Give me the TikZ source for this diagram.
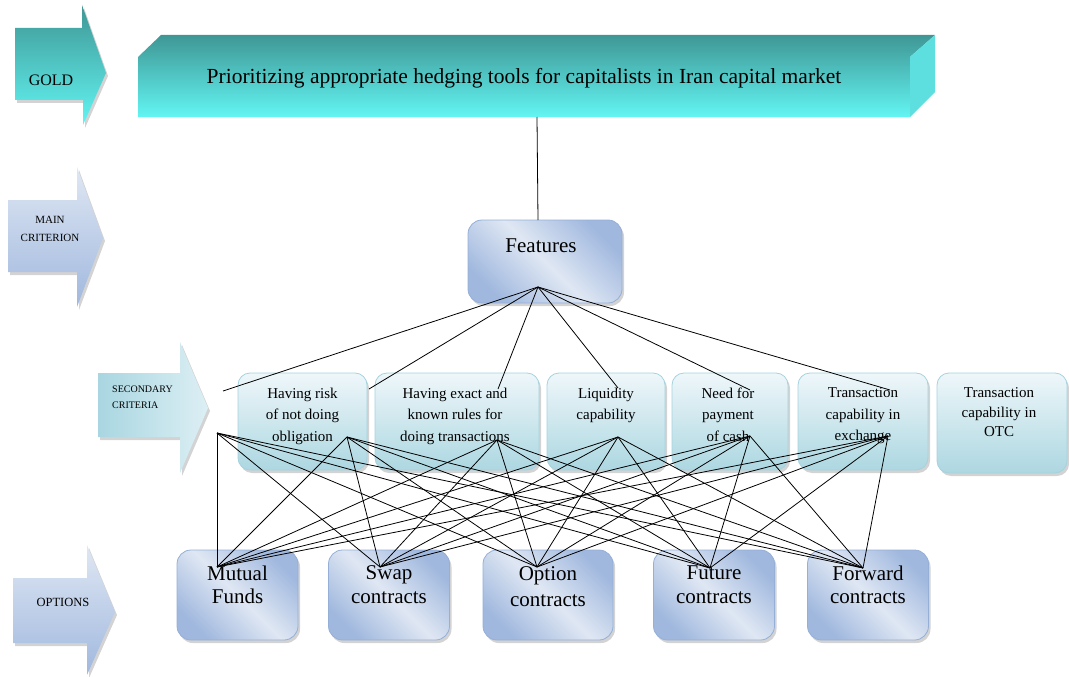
\documentclass[tikz,border=0pt]{standalone}
\usepackage{fontspec}
\setmainfont{Liberation Serif}
\usetikzlibrary{positioning,shadows}

\definecolor{tealdark}{HTML}{3F9795}
\definecolor{tealcyan}{HTML}{62F5F3}
\definecolor{tealside}{HTML}{5CDFDE}
\definecolor{lavdark}{HTML}{A0B8DE}
\definecolor{lavlight}{HTML}{DFE7F3}
\definecolor{lavedge}{HTML}{95AFD7}
\definecolor{critlight}{HTML}{EEF7FA}
\definecolor{critdark}{HTML}{ADD7E1}
\definecolor{critedge}{HTML}{A6D2DD}
\definecolor{arrteal}{HTML}{A9D6E1}
\definecolor{arrteallight}{HTML}{DCEFF4}

\tikzset{every node/.style={align=center, inner sep=0pt},
  softshadow/.style={drop shadow={shadow xshift=2pt, shadow yshift=-3pt, opacity=0.35}},
  critbox/.style={draw=critedge, line width=0.8pt, rounded corners=12pt, top color=critlight,
    bottom color=critdark, minimum height=97pt, softshadow},
  crittxt/.style={font=\fontsize{15}{21.5}\selectfont},
  optbox/.style={draw=lavedge, line width=0.8pt, rounded corners=14pt, top color=lavdark,
    bottom color=lavdark, middle color=lavlight, shading angle=-45, minimum width=121pt,
    minimum height=90pt, softshadow},
  opttxt/.style={font=\fontsize{21}{23.5}\selectfont},
  levelfill/.style={softshadow},
  link/.style={line width=0.8pt, black}}

\begin{document}
\begin{tikzpicture}[x=1pt, y=-1pt]
\useasboundingbox (0,0) rectangle (1069,677);

% level arrows
\path[levelfill, top color=tealdark, bottom color=tealcyan]
  (15,28) -- (82,28) -- (82,5) -- (106,73) -- (83,125) -- (83,100) -- (15,100) -- cycle;
\node[font=\fontsize{16}{18}\selectfont] (gold) at (51,80) {GOLD};
\path[levelfill, top color=lavlight, bottom color=lavdark]
  (8,200) -- (77,200) -- (77,167) -- (103,238) -- (77,307) -- (77,272) -- (8,272) -- cycle;
\node[font=\fontsize{11}{18}\selectfont] (maincrit) at (50,229) {MAIN\\CRITERION};
\path[levelfill, left color=arrteal, right color=arrteallight]
  (98,373) -- (180,373) -- (180,342) -- (208,408) -- (180,473) -- (180,437) -- (98,437) -- cycle;
\node[font=\fontsize{10}{16}\selectfont, align=left, anchor=west] (seccrit) at (112,397) {SECONDARY\\CRITERIA};
\path[levelfill, top color=lavlight, bottom color=lavdark]
  (13,578) -- (87,578) -- (87,545) -- (115,612) -- (87,675) -- (87,643) -- (13,643) -- cycle;
\node[font=\fontsize{12.5}{14}\selectfont] (opts) at (63,602) {OPTIONS};

% goal
\shade[top color=tealdark, bottom color=tealcyan]
  (138,117) -- (138,57) -- (161,35) -- (935,35) -- (910,57) -- (910,117) -- cycle;
\fill[tealside] (910,57) -- (935,35) -- (935,92) -- (910,117) -- cycle;
\node[font=\fontsize{21.5}{24}\selectfont] (goal) at (524,78)
  {Prioritizing appropriate hedging tools for capitalists in Iran capital market};
\coordinate (goalbase) at (537,117);

% main criterion
\node[optbox, minimum width=154pt, minimum height=83pt] (feat) at (545,261.5) {};
\node[opttxt] (feattxt) at (541,246) {Features};
\coordinate (feattop) at (538,220);
\coordinate (ffan) at (538,287);

% secondary criteria
\node[critbox, minimum width=129pt] (c1) at (302.5,421.5) {};
\node[critbox, minimum width=164pt] (c2) at (457,421.5) {};
\node[critbox, minimum width=118pt] (c3) at (606,421.5) {};
\node[critbox, minimum width=116pt] (c4) at (730,421.5) {};
\node[critbox, minimum width=130pt] (c5) at (863,421.5) {};
\node[critbox, minimum width=130pt, minimum height=100pt] (c6) at (1002,423) {};
\node[crittxt, below=15pt of c1.north] (c1t) {Having risk\\of not doing\\obligation};
\node[crittxt, below=15pt of c2.north, xshift=-2pt] (c2t) {Having exact and\\known rules for\\doing transactions};
\node[crittxt, below=15pt of c3.north] (c3t) {Liquidity\\capability};
\node[crittxt, below=15pt of c4.north, xshift=-2pt] (c4t) {Need for\\payment\\of cash};
\node[crittxt, below=15pt of c5.north] (c5t) {Transaction\\capability in\\exchange};
\node[crittxt, below=15pt of c6.north, xshift=-3pt, font=\fontsize{15}{19.5}\selectfont] (c6t) {Transaction\\capability in\\OTC};

% options
\node[optbox] (o1) at (237.5,595) {};
\node[optbox] (o2) at (389,595) {};
\node[optbox, minimum width=130pt] (o3) at (548,595) {};
\node[optbox] (o4) at (714,595) {};
\node[optbox] (o5) at (868,595) {};
\node[opttxt, below=16pt of o1.north] (o1t) {Mutual\\Funds};
\node[opttxt, below=16pt of o2.north] (o2t) {Swap\\contracts};
\node[opttxt, below=16pt of o3.north, yshift=-1pt, font=\fontsize{21}{26}\selectfont] (o3t) {Option\\contracts};
\node[opttxt, below=16pt of o4.north] (o4t) {Future\\contracts};
\node[opttxt, below=16pt of o5.north] (o5t) {Forward\\contracts};

% link points
\coordinate (t0) at (223,391);
\coordinate (t1) at (369,389);
\coordinate (t2) at (498,389);
\coordinate (t3) at (618,388);
\coordinate (t4) at (750,390);
\coordinate (t5) at (890,390);
\coordinate (b0) at (217,433);
\coordinate (b1) at (347,437);
\coordinate (b2) at (497,440);
\coordinate (b3) at (618,437);
\coordinate (b4) at (750,436);
\coordinate (b5) at (888,436);
\coordinate (p1) at (217,567);
\coordinate (p2) at (380,567);
\coordinate (p3) at (537,567);
\coordinate (p4) at (710,568);
\coordinate (p5) at (863,568);

% links
\draw[link] (goalbase) -- (feattop);
\foreach \t in {t0,t1,t2,t3,t4,t5}
  \draw[link] (ffan) -- (\t);
\foreach \b in {b0,b1,b2,b3,b4,b5}
  \foreach \p in {p1,p2,p3,p4,p5}
    \draw[link] (\b) -- (\p);

\end{tikzpicture}
\end{document}
